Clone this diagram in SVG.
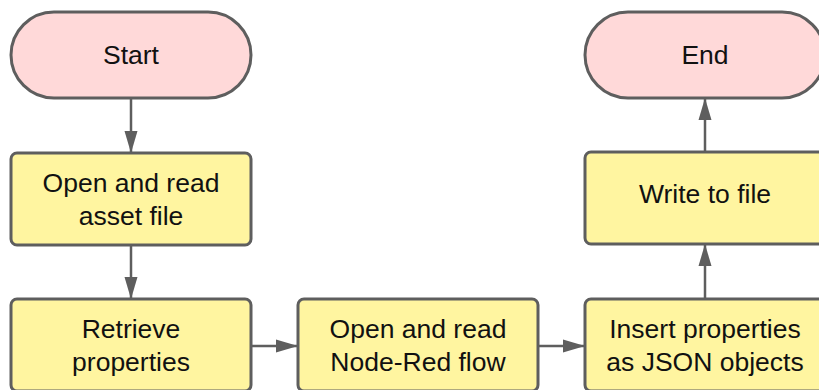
<svg xmlns="http://www.w3.org/2000/svg" width="819" height="390" viewBox="0 0 819 390">
  <style>
    .terminal { fill: #ffd9d9; stroke: #5e5e5e; stroke-width: 3; }
    .process { fill: #fff5a0; stroke: #5e5e5e; stroke-width: 3; }
    .label { font-family: "Liberation Sans", Arial, sans-serif; font-size: 26.5px; fill: #111; text-anchor: middle; }
    .edge { stroke: #5e5e5e; stroke-width: 2.5; fill: none; marker-end: url(#arrow); }
  </style>
  <defs>
    <marker id="arrow" markerUnits="userSpaceOnUse" markerWidth="22" markerHeight="14" refX="21" refY="7" orient="auto">
      <path d="M0,0.5 L22,7 L0,13.5 z" fill="#5e5e5e"/>
    </marker>
  </defs>
  <rect width="819" height="390" fill="#ffffff"/>

  <g id="connectors">
    <line class="edge" x1="131" y1="98" x2="131" y2="152"/>
    <line class="edge" x1="131" y1="245" x2="131" y2="298"/>
    <line class="edge" x1="251" y1="346" x2="297" y2="346"/>
    <line class="edge" x1="538" y1="346" x2="584" y2="346"/>
    <line class="edge" x1="705" y1="299" x2="705" y2="245"/>
    <line class="edge" x1="705" y1="152" x2="705" y2="99"/>
  </g>

  <g id="start">
    <rect class="terminal" x="11" y="12" width="240" height="86" rx="43" ry="43"/>
    <text class="label" x="131" y="64">Start</text>
  </g>

  <g id="open-asset">
    <rect class="process" x="11" y="153" width="240" height="92" rx="6" ry="6"/>
    <text class="label" x="131" y="192">Open and read</text>
    <text class="label" x="131" y="225">asset file</text>
  </g>

  <g id="retrieve">
    <rect class="process" x="11" y="299" width="240" height="92" rx="6" ry="6"/>
    <text class="label" x="131" y="338">Retrieve</text>
    <text class="label" x="131" y="371">properties</text>
  </g>

  <g id="open-flow">
    <rect class="process" x="298" y="299" width="240" height="92" rx="6" ry="6"/>
    <text class="label" x="418" y="338">Open and read</text>
    <text class="label" x="418" y="371">Node-Red flow</text>
  </g>

  <g id="insert">
    <rect class="process" x="585" y="299" width="240" height="92" rx="6" ry="6"/>
    <text class="label" x="705" y="338">Insert properties</text>
    <text class="label" x="705" y="371">as JSON objects</text>
  </g>

  <g id="write">
    <rect class="process" x="585" y="152" width="240" height="92" rx="6" ry="6"/>
    <text class="label" x="705" y="203">Write to file</text>
  </g>

  <g id="end">
    <rect class="terminal" x="585" y="12" width="240" height="86" rx="43" ry="43"/>
    <text class="label" x="705" y="64">End</text>
  </g>
</svg>
